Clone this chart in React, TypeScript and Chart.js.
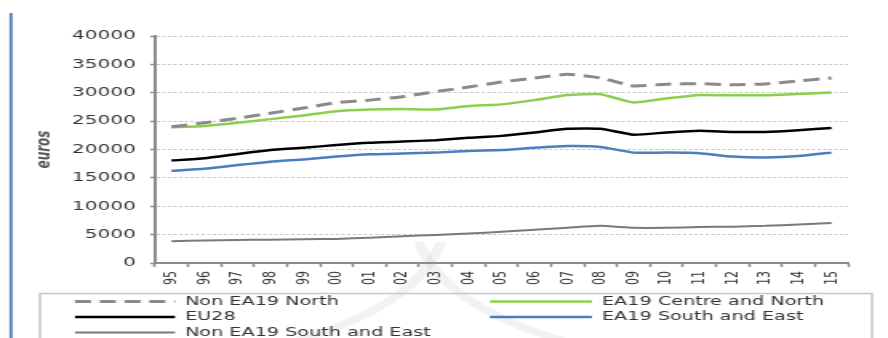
import React, { useEffect, useRef } from "react";
import { Chart, registerables } from "chart.js";

Chart.register(...registerables);

const years = ["95", "96", "97", "98", "99", "00", "01", "02", "03", "04", "05", "06", "07", "08", "09", "10", "11", "12", "13", "14", "15"];

const nonEA19North = [24000, 24700, 25500, 26400, 27300, 28250, 28700, 29300, 30200, 31000, 31900, 32600, 33250, 32600, 31200, 31500, 31600, 31400, 31550, 32100, 32600];
const ea19CentreNorth = [23900, 24150, 24700, 25350, 26000, 26750, 27050, 27150, 27050, 27650, 27950, 28700, 29600, 29750, 28300, 29000, 29600, 29550, 29550, 29800, 30050];
const eu28 = [18050, 18450, 19200, 19900, 20300, 20800, 21200, 21400, 21650, 22050, 22400, 23000, 23650, 23650, 22600, 23000, 23300, 23100, 23100, 23400, 23800];
const ea19SouthEast = [16250, 16600, 17250, 17850, 18250, 18750, 19150, 19300, 19450, 19750, 19900, 20300, 20600, 20450, 19450, 19450, 19350, 18750, 18600, 18850, 19450];
const nonEA19SouthEast = [3850, 3950, 4050, 4100, 4200, 4250, 4450, 4700, 4950, 5200, 5500, 5850, 6200, 6550, 6200, 6200, 6350, 6400, 6550, 6800, 7050];

const seriesNames = ["Non EA19 North", "EA19 Centre and North", "EU28", "EA19 South and East", "Non EA19 South and East"];

// horizontal stretch of the whole picture (canvas drawn narrow, displayed wide)
const S = 1.6;
const W = 888;
const H = 338;
const CW = W / S;

const FONT = "'DejaVu Sans', Verdana, sans-serif";

const decorPlugin = {
  id: "decor",
  beforeDraw(chart: any) {
    const ctx = chart.ctx;
    ctx.save();
    // left page rule
    ctx.strokeStyle = "#5a86c2";
    ctx.lineWidth = 2;
    ctx.beginPath();
    ctx.moveTo(11 / S, 13);
    ctx.lineTo(11 / S, H);
    ctx.stroke();
    // faint watermark strokes
    ctx.strokeStyle = "rgba(0,0,0,0.05)";
    ctx.lineWidth = 7;
    ctx.lineCap = "round";
    ctx.beginPath();
    ctx.moveTo(420 / S, 245);
    ctx.quadraticCurveTo(445 / S, 305, 560 / S, 340);
    ctx.stroke();
    ctx.beginPath();
    ctx.moveTo(440 / S, 245);
    ctx.quadraticCurveTo(415 / S, 305, 300 / S, 340);
    ctx.stroke();
    ctx.restore();
  },
  afterDraw(chart: any) {
    const ctx = chart.ctx;
    ctx.save();
    // legend frame
    ctx.strokeStyle = "#c8c8c8";
    ctx.lineWidth = 1.5;
    ctx.strokeRect(40 / S, 293.5, (872 - 40) / S, 60);
    const cols = [
      { x0: 75 / S, x1: 175 / S, tx: 185 / S },
      { x0: 490 / S, x1: 592 / S, tx: 602 / S },
    ];
    const rows = [301.5, 317, 332.5];
    ctx.font = `12px ${FONT}`;
    ctx.textBaseline = "middle";
    ctx.textAlign = "left";
    chart.data.datasets.forEach((ds: any, i: number) => {
      const c = cols[i % 2];
      const y = rows[Math.floor(i / 2)];
      ctx.strokeStyle = ds.borderColor;
      ctx.lineWidth = ds.borderWidth;
      ctx.setLineDash(ds.borderDash || []);
      ctx.beginPath();
      ctx.moveTo(c.x0, y);
      ctx.lineTo(c.x1, y);
      ctx.stroke();
      ctx.setLineDash([]);
      ctx.fillStyle = "#333333";
      ctx.fillText(ds.label, c.tx, y);
    });
    ctx.restore();
  },
};

export default function App() {
  const ref = useRef<HTMLCanvasElement>(null);

  useEffect(() => {
    if (!ref.current) return;
    const chart = new Chart(ref.current, {
      type: "line",
      data: {
        labels: years,
        datasets: [
          { label: seriesNames[0], data: nonEA19North, borderColor: "#8a8a8a", borderWidth: 3, borderDash: [10, 5.5] },
          { label: seriesNames[1], data: ea19CentreNorth, borderColor: "#8ccf4d", borderWidth: 2.5 },
          { label: seriesNames[2], data: eu28, borderColor: "#000000", borderWidth: 2.5 },
          { label: seriesNames[3], data: ea19SouthEast, borderColor: "#4a7ebf", borderWidth: 2.5 },
          { label: seriesNames[4], data: nonEA19SouthEast, borderColor: "#7a7a7a", borderWidth: 2 },
        ],
      },
      options: {
        responsive: false,
        animation: false,
        devicePixelRatio: 1,
        layout: { padding: { left: 14, right: CW - 848 / S, top: 36, bottom: 45 } },
        plugins: { legend: { display: false }, tooltip: { enabled: false } },
        elements: { point: { radius: 0 }, line: { tension: 0.15 } },
        scales: {
          x: {
            offset: true,
            grid: { offset: true, drawOnChartArea: false, drawTicks: true, tickLength: 4, tickColor: "#8c8c8c", tickWidth: 1.5 },
            border: { display: true, color: "#8c8c8c", width: 2 },
            ticks: { autoSkip: false, minRotation: 90, maxRotation: 90, padding: 4, color: "#333333", font: { family: FONT, size: 11 } },
            afterFit: (s: any) => { s.height = 30; },
          },
          y: {
            min: 0,
            max: 40000,
            ticks: { stepSize: 5000, padding: 9, color: "#333333", font: { family: FONT, size: 12.5 }, callback: (v: any) => String(v) },
            grid: { color: "#c4c4c4", lineWidth: 1, tickColor: "#8c8c8c", tickLength: 3, tickWidth: 1.5, tickBorderDash: [] },
            border: { display: true, color: "#8c8c8c", width: 2, dash: [2, 1.5] },
            title: { display: true, text: "euros", color: "#595959", font: { family: FONT, size: 12, weight: "bold", style: "italic" }, padding: { top: 7, bottom: 0 } },
            afterFit: (s: any) => { s.width = 155 / S - 14; },
          },
        },
      },
      plugins: [decorPlugin],
    } as any);
    return () => chart.destroy();
  }, []);

  return (
    <div style={{ position: "fixed", left: 0, top: 0, width: W, height: H, background: "#fff" }}>
      <canvas ref={ref} width={Math.round(CW)} height={H} style={{ width: W + "px", height: H + "px", display: "block" }} />
    </div>
  );
}
